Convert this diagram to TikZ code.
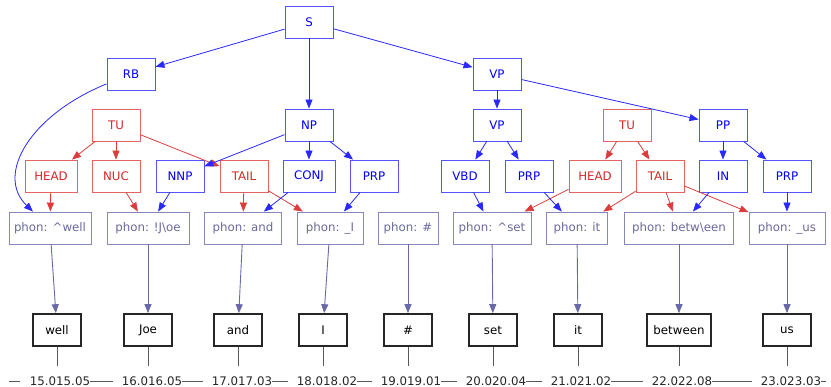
\documentclass[tikz,border=0pt]{standalone}
\usepackage{fontspec}
\setmainfont{DejaVu Sans}
\usetikzlibrary{arrows.meta}
\definecolor{bl}{RGB}{0,0,255}
\definecolor{ble}{RGB}{40,40,255}
\definecolor{blb}{RGB}{85,85,255}
\definecolor{rd}{RGB}{214,39,40}
\definecolor{rde}{RGB}{220,60,60}
\definecolor{rdb}{RGB}{228,100,100}
\definecolor{ph}{RGB}{105,105,155}
\definecolor{phb}{RGB}{135,135,185}
\definecolor{phe}{RGB}{105,105,170}
\begin{document}
\begin{tikzpicture}[x=1pt,y=-1pt,font=\fontsize{11.8}{14}\selectfont,
 box/.style={rectangle,minimum width=48pt,minimum height=32pt,inner sep=0pt,line width=0.9pt},
 syn/.style={box,draw=blb,text=bl},
 rdn/.style={box,draw=rdb,text=rd},
 phn/.style={box,draw=phb,text=ph},
 tok/.style={box,draw=black!85,line width=1.6pt,text=black},
 tim/.style={inner xsep=0pt,inner ysep=2pt,text=black!85},
 tip/.style={-{Triangle[length=9pt,width=7pt]}},
 be/.style={tip,draw=ble,line width=0.8pt},
 re/.style={tip,draw=rde,line width=0.8pt},
 pe/.style={tip,draw=phe,line width=0.9pt},
 ke/.style={draw=black!65,line width=0.9pt},
]
\useasboundingbox (0,0) rectangle (831,387);
% rows 1-3
\node[syn] (S) at (309,22) {S};
\node[syn] (RB) at (131,74) {RB};
\node[syn] (VPa) at (497,74) {VP};
\node[rdn] (TUa) at (116,125) {TU};
\node[syn] (NP) at (309,125) {NP};
\node[syn] (VPb) at (497,125) {VP};
\node[rdn] (TUb) at (627,125) {TU};
\node[syn] (PP) at (723,125) {PP};
% row 4
\node[rdn,minimum width=52pt] (HEADa) at (51,176) {HEAD};
\node[rdn] (NUC) at (116,176) {NUC};
\node[syn] (NNP) at (180,176) {NNP};
\node[rdn] (TAILa) at (244,176) {TAIL};
\node[syn,minimum width=52pt] (CONJ) at (309,176) {CONJ};
\node[syn] (PRPa) at (374,176) {PRP};
\node[syn] (VBD) at (465,176) {VBD};
\node[syn] (PRPb) at (529,176) {PRP};
\node[rdn,minimum width=52pt] (HEADb) at (595,176) {HEAD};
\node[rdn] (TAILb) at (660,176) {TAIL};
\node[syn] (IN) at (723,176) {IN};
\node[syn] (PRPc) at (787,176) {PRP};
% row 5
\node[phn,minimum width=82pt] (p1) at (50,228) {phon: \textasciicircum well};
\node[phn,minimum width=82pt] (p2) at (148,228) {phon: !J\textbackslash oe};
\node[phn,minimum width=77pt] (p3) at (243,228) {phon: and};
\node[phn,minimum width=66pt] (p4) at (330,228) {phon: \_I};
\node[phn,minimum width=60pt] (p5) at (408,228) {phon: \#};
\node[phn,minimum width=78pt] (p6) at (492,228) {phon: \textasciicircum set};
\node[phn,minimum width=61pt] (p7) at (577,228) {phon: it};
\node[phn,minimum width=109pt] (p8) at (679,228) {phon: betw\textbackslash een};
\node[phn,minimum width=76pt] (p9) at (787,228) {phon: \_us};
% row 6
\node[tok] (w1) at (57,330) {well};
\node[tok] (w2) at (148,330) {Joe};
\node[tok] (w3) at (238,330) {and};
\node[tok] (w4) at (323,330) {I};
\node[tok] (w5) at (408,330) {\#};
\node[tok] (w6) at (493,330) {set};
\node[tok] (w7) at (578,330) {it};
\node[tok,minimum width=64pt] (w8) at (679,330) {between};
\node[tok] (w9) at (787,330) {us};
% times
\node[tim] (t1) at (60,381) {15.015.05};
\node[tim] (t2) at (152,381) {16.016.05};
\node[tim] (t3) at (242,381) {17.017.03};
\node[tim] (t4) at (327,381) {18.018.02};
\node[tim] (t5) at (411,381) {19.019.01};
\node[tim] (t6) at (496,381) {20.020.04};
\node[tim] (t7) at (581,381) {21.021.02};
\node[tim] (t8) at (682,381) {22.022.08};
\node[tim] (t9) at (791,381) {23.023.03};
\coordinate (ts) at (9,381);
\coordinate (te) at (826,381);
\coordinate (k) at (0,366);
% edges
\draw[be] (S) -- (RB);
\draw[be] (S) -- (NP);
\draw[be] (S) -- (VPa);
\draw[be] (RB) .. controls (30,115) and (-5,175) .. (p1);
\draw[be] (VPa) -- (VPb);
\draw[be] (VPa) -- (PP);
\draw[re] (TUa) -- (HEADa);
\draw[re] (TUa) -- (NUC);
\draw[re] (TUa) -- (TAILa);
\draw[be] (NP) -- (NNP);
\draw[be] (NP) -- (CONJ);
\draw[be] (NP) -- (PRPa);
\draw[be] (VPb) -- (VBD);
\draw[be] (VPb) -- (PRPb);
\draw[re] (TUb) -- (HEADb);
\draw[re] (TUb) -- (TAILb);
\draw[be] (PP) -- (IN);
\draw[be] (PP) -- (PRPc);
\draw[re] (HEADa) -- (p1);
\draw[re] (NUC) -- (p2);
\draw[be] (NNP) -- (p2);
\draw[re] (TAILa) -- (p3);
\draw[re] (TAILa) -- (p4);
\draw[be] (CONJ) -- (p3);
\draw[be] (PRPa) -- (p4);
\draw[be] (VBD) -- (p6);
\draw[re] (HEADb) -- (p6);
\draw[be] (PRPb) -- (p7);
\draw[re] (TAILb) -- (p7);
\draw[re] (TAILb) -- (p8);
\draw[re] (TAILb) -- (p9);
\draw[be] (IN) -- (p8);
\draw[be] (PRPc) -- (p9);
\foreach \i in {1,...,9}{
  \draw[pe] (p\i) -- (w\i);
  \draw[ke] (w\i.south) -- (w\i.south |- k);
}
\draw[ke] (ts) -- ([xshift=-10pt]t1.west);
\foreach \i/\j in {1/2,2/3,3/4,4/5,5/6,6/7,7/8,8/9}{
  \draw[ke] (t\i.east) -- ([xshift=-9pt]t\j.west);
}
\draw[ke] (t9.east) -- (te);
\end{tikzpicture}
\end{document}
